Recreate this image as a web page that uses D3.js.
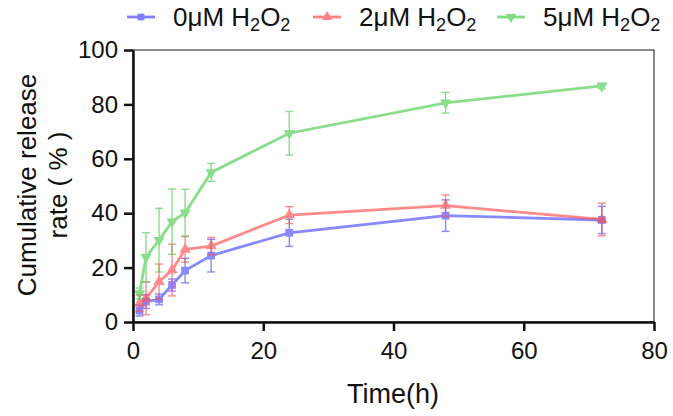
<!DOCTYPE html>
<html>
<head>
<meta charset="utf-8">
<script src="https://cdn.jsdelivr.net/npm/d3@7"></script>
<style>
  body { margin: 0; background: #fff; }
  text { font-family: "Liberation Sans", Arial, sans-serif; fill: #111; }
</style>
</head>
<body>
<div id="chart"></div>
<script>
const times = [1, 2, 4, 6, 8, 12, 24, 48, 72];
const labels = ["0μM", "2μM", "5μM"];
const blueVals = [4.2, 7.5, 8.3, 13.6, 18.9, 24.4, 32.8, 39.1, 37.5];
const blueErr = [2, 2.5, 2, 2.2, 4.5, 6, 5, 5.8, 5];
const redVals = [6.9, 8.7, 14.8, 19.1, 26.7, 27.9, 39.3, 42.8, 37.7];
const redErr = [3, 6, 6.5, 9.5, 4.7, 3.2, 3.1, 3.9, 6];
const greenVals = [10.5, 23.8, 30.1, 36.9, 40.2, 55, 69.4, 80.6, 86.8];
const greenErr = [2, 9, 11.7, 12, 8.6, 3.3, 8, 3.8, 1];
const xTicks = [0, 20, 40, 60, 80];
const yTicks = [0, 20, 40, 60, 80, 100];

const series = [
  { name: labels[0], vals: blueVals, err: blueErr, color: "#4a4aff", sym: d3.symbolSquare, rot: 0 },
  { name: labels[1], vals: redVals, err: redErr, color: "#ff4d4d", sym: d3.symbolTriangle, rot: 0 },
  { name: labels[2], vals: greenVals, err: greenErr, color: "#4ccc4c", sym: d3.symbolTriangle, rot: 180 }
];

const W = 673, H = 416;
const svg = d3.select("#chart").append("svg").attr("width", W).attr("height", H);

const x = d3.scaleLinear().domain([0, 80]).range([133, 654]);
const y = d3.scaleLinear().domain([0, 100]).range([322, 50]);

// thin frame
svg.append("rect")
  .attr("x", x(0)).attr("y", y(100))
  .attr("width", x(80) - x(0)).attr("height", y(0) - y(100))
  .attr("fill", "none").attr("stroke", "#111").attr("stroke-width", 1);

// series
series.forEach(s => {
  const g = svg.append("g").attr("opacity", 0.65);
  const pts = times.map((t, i) => ({ t: t, v: s.vals[i], e: s.err[i] }));
  g.append("path")
    .datum(pts)
    .attr("d", d3.line().x(d => x(d.t)).y(d => y(d.v)))
    .attr("fill", "none").attr("stroke", s.color).attr("stroke-width", 2.8);
  const eb = g.selectAll(".eb").data(pts).join("g").attr("stroke", s.color).attr("stroke-width", 1.4);
  eb.append("line").attr("x1", d => x(d.t)).attr("x2", d => x(d.t))
    .attr("y1", d => y(d.v - d.e)).attr("y2", d => y(d.v + d.e));
  eb.append("line").attr("x1", d => x(d.t) - 4).attr("x2", d => x(d.t) + 4)
    .attr("y1", d => y(d.v + d.e)).attr("y2", d => y(d.v + d.e));
  eb.append("line").attr("x1", d => x(d.t) - 4).attr("x2", d => x(d.t) + 4)
    .attr("y1", d => y(d.v - d.e)).attr("y2", d => y(d.v - d.e));
  g.selectAll(".pt").data(pts).join("path")
    .attr("d", d3.symbol().type(s.sym).size(s.sym === d3.symbolSquare ? 60 : 55))
    .attr("transform", d => `translate(${x(d.t)},${y(d.v)}) rotate(${s.rot})`)
    .attr("fill", s.color);
});

// axes
const xAxis = svg.append("g").attr("transform", `translate(0,${y(0)})`)
  .call(d3.axisBottom(x).tickValues(xTicks).tickSize(9).tickPadding(11).tickSizeOuter(0));
const yAxis = svg.append("g").attr("transform", `translate(${x(0)},0)`)
  .call(d3.axisLeft(y).tickValues(yTicks).tickSize(9).tickPadding(6).tickSizeOuter(0));
[xAxis, yAxis].forEach(a => {
  a.select(".domain").attr("stroke", "#111").attr("stroke-width", 2.5);
  a.selectAll(".tick line").attr("stroke", "#111").attr("stroke-width", 2.5);
  a.selectAll(".tick text").style("font-size", "24px").attr("fill", "#111");
});

// axis titles
svg.append("text").attr("x", 393).attr("y", 403).attr("text-anchor", "middle")
  .style("font-size", "27px").text("Time(h)");
const yt = svg.append("text").attr("transform", "translate(36,185) rotate(-90)")
  .attr("text-anchor", "middle").style("font-size", "26px");
yt.append("tspan").attr("x", 0).attr("dy", 0).text("Cumulative release");
yt.append("tspan").attr("x", 0).attr("dy", 31).text("rate ( % )");

// legend
const legX = [127, 313, 497];
series.forEach((s, i) => {
  const lg = svg.append("g").attr("transform", `translate(${legX[i]},17)`);
  const inner = lg.append("g").attr("opacity", 0.7);
  inner.append("line").attr("x1", 0).attr("x2", 28).attr("y1", 0).attr("y2", 0)
    .attr("stroke", s.color).attr("stroke-width", 2.8);
  inner.append("path").attr("d", d3.symbol().type(s.sym).size(45))
    .attr("transform", `translate(14,0) rotate(${s.rot})`).attr("fill", s.color);
  const t = lg.append("text").attr("x", 46).attr("y", 9).style("font-size", "26px");
  t.append("tspan").text(s.name + " H");
  t.append("tspan").attr("dy", 5).style("font-size", "18px").text("2");
  t.append("tspan").attr("dy", -5).text("O");
  t.append("tspan").attr("dy", 5).style("font-size", "18px").text("2");
});
</script>
</body>
</html>
